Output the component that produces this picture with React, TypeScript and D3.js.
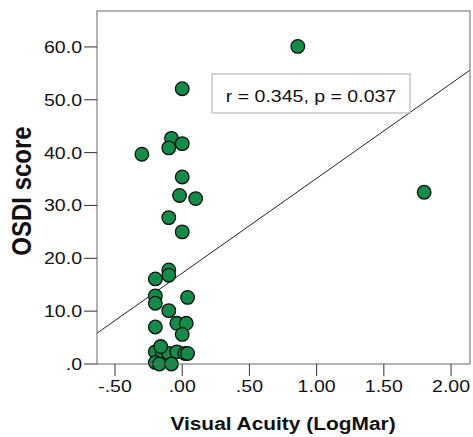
import React from "react";
import * as d3 from "d3";

// values
const visualAcuity = [
  0.0, -0.08, -0.1, 0.0, -0.3, 0.0, -0.02, 0.1, -0.1, 0.0, -0.1, -0.1, -0.2,
  -0.2, -0.2, 0.04, -0.1, -0.2, -0.04, 0.03, 0.0, -0.2, -0.15, -0.1, -0.04,
  0.02, 0.04, -0.2, -0.17, -0.08, -0.16, 0.86, 1.8
];
const osdiScore = [
  52.1, 42.7, 40.9, 41.7, 39.7, 35.4, 31.9, 31.3, 27.7, 25.0, 17.8, 16.8, 16.1,
  12.9, 11.5, 12.6, 10.1, 7.0, 7.7, 7.7, 5.6, 2.3, 2.3, 2.0, 2.3, 2.0, 2.0, 0.3,
  0.0, 0.0, 3.3, 60.1, 32.5
];
const xTicks = [-0.5, 0, 0.5, 1, 1.5, 2];
const yTicks = [0, 10, 20, 30, 40, 50, 60];
const fitSlope = 17.94;
const fitIntercept = 17.2;
const annotation = "r = 0.345, p = 0.037";

const width = 473;
const height = 437;
const margin = { top: 11, right: 3, bottom: 73, left: 97 };
const font = "Arial, 'Liberation Sans', sans-serif";
const stretch = 1.15;

// SPSS style: no leading zero, plain hyphen minus
const spss = (v: number, digits: number) =>
  (v < 0 ? "-" : "") + Math.abs(v).toFixed(digits).replace(/^0\./, ".");

export default function App() {
  const x = d3
    .scaleLinear()
    .domain([-0.634, 2.141])
    .range([margin.left, width - margin.right]);
  const y = d3
    .scaleLinear()
    .domain([0, 66.8])
    .range([height - margin.bottom, margin.top]);

  const [x0, x1] = x.domain();
  const fit = d3.line<number>()
    .x(d => x(d))
    .y(d => y(fitIntercept + fitSlope * d));

  const bottom = height - margin.bottom;

  return (
    <svg
      width={width}
      height={height}
      style={{ position: "absolute", left: 0, top: 0, background: "#fff" }}
    >
      {/* regression line */}
      <path d={fit([x0, x1]) || ""} fill="none" stroke="#222" strokeWidth={1} />

      {/* points */}
      {visualAcuity.map((v, i) => (
        <circle
          key={i}
          cx={x(v)}
          cy={y(osdiScore[i])}
          r={6.8}
          fill="#138c47"
          stroke="#111"
          strokeWidth={1.3}
        />
      ))}

      {/* frame */}
      <rect
        x={margin.left}
        y={margin.top}
        width={width - margin.left - margin.right}
        height={bottom - margin.top}
        fill="none"
        stroke="#666"
        strokeWidth={1}
      />

      {/* annotation box */}
      <rect x={212} y={74} width={198} height={39} fill="#fff" stroke="#aaa" strokeWidth={1} />
      <text
        transform={`translate(311,102) scale(${stretch},1)`}
        textAnchor="middle"
        fontFamily={font}
        fontSize={17}
        fill="#111"
      >
        {annotation}
      </text>

      {/* x axis */}
      {xTicks.map(t => (
        <g key={t}>
          <line x1={x(t)} x2={x(t)} y1={bottom} y2={bottom + 12} stroke="#333" />
          <text
            transform={`translate(${x(t)},392) scale(${stretch},1)`}
            textAnchor="middle"
            fontFamily={font}
            fontSize={17}
            fill="#111"
          >
            {spss(t, 2)}
          </text>
        </g>
      ))}

      {/* y axis */}
      {yTicks.map(t => (
        <g key={t}>
          <line x1={margin.left - 13} x2={margin.left} y1={y(t)} y2={y(t)} stroke="#333" />
          <text
            transform={`translate(82,${y(t) + 6}) scale(${stretch},1)`}
            textAnchor="end"
            fontFamily={font}
            fontSize={17}
            fill="#111"
          >
            {spss(t, 1)}
          </text>
        </g>
      ))}

      {/* axis titles */}
      <text
        transform={`translate(283,430) scale(1.1,1)`}
        textAnchor="middle"
        fontFamily={font}
        fontWeight="bold"
        fontSize={19}
        fill="#111"
      >
        Visual Acuity (LogMar)
      </text>
      <text
        transform={`translate(31,191) scale(1.15,1) rotate(-90)`}
        textAnchor="middle"
        fontFamily={font}
        fontWeight="bold"
        fontSize={24}
        fill="#111"
      >
        OSDI score
      </text>
    </svg>
  );
}
